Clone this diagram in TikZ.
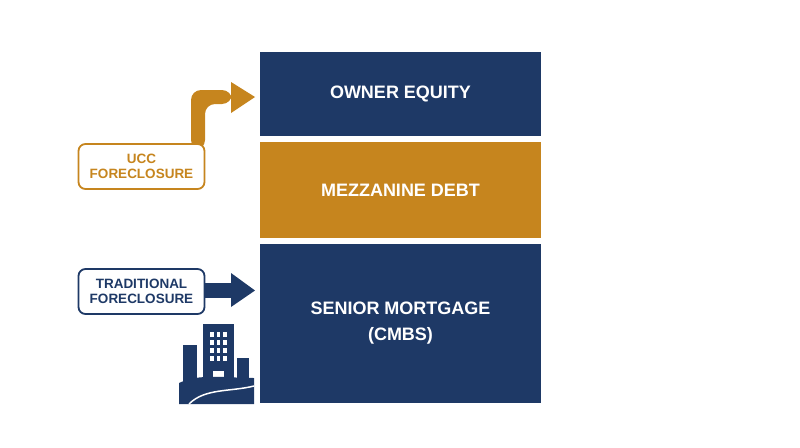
\documentclass[tikz,border=0pt]{standalone}
\usepackage{fontspec}
\setmainfont{Liberation Sans}
\definecolor{navy}{HTML}{1E3966}
\definecolor{gold}{HTML}{C6851E}
\begin{document}
\begin{tikzpicture}[x=1pt,y=-1pt,
  layer/.style={draw=none,minimum width=281pt,inner sep=0pt,text=white,font=\bfseries\fontsize{18}{22}\selectfont,align=center},
  tag/.style={draw=#1,line width=1.8pt,rounded corners=7pt,fill=white,text=#1,minimum width=126pt,minimum height=45pt,font=\bfseries\fontsize{13.5}{15.5}\selectfont,align=center,inner sep=0pt},
  win/.style={fill=white,draw=none}]
\useasboundingbox (0,0) rectangle (800,447);
\node[layer,fill=navy,minimum height=84pt] (eq) at (400.5,94) {OWNER EQUITY};
\node[layer,fill=gold,minimum height=96pt] (mz) at (400.5,190) {MEZZANINE DEBT};
\node[layer,fill=navy,minimum height=159pt] (sr) at (400.5,323.5) {SENIOR MORTGAGE\\[4pt](CMBS)};
% orange arrow
\coordinate (ua) at (198,145);
\fill[gold,rounded corners=10pt] (191,150) -- (191,90) -- (232,90) -- (232,104) -- (205,104) -- (205,150) -- cycle;
\fill[gold] (231,82) -- (255,97) -- (231,113) -- cycle;
\node[tag=gold] (ucc) at (141.5,166.5) {UCC\\FORECLOSURE};
% navy arrow
\fill[navy] (200,283) rectangle (233,298);
\fill[navy] (231,273) -- (255,290.5) -- (231,307) -- cycle;
\node[tag=navy] (tf) at (141.5,291.5) {TRADITIONAL\\FORECLOSURE};
% building
\fill[navy] (183,345) rectangle (197,390);
\fill[navy] (237,358) rectangle (249,390);
\fill[navy] (203,324) rectangle (234,390);
\foreach \i in {0,1,2} \foreach \j in {0,1,2,3}
  \fill[white] (210+\i*6.5,332+\j*8) rectangle ++(3.5,4.5);
\fill[white] (213,371) rectangle (224,390);
\fill[navy] (179,383) .. controls (200,373) and (225,378) .. (254,378) -- (254,404) -- (179,404) -- cycle;
\draw[white,line width=1.5pt] (189,404) .. controls (205,388) and (230,392) .. (254,386);
\end{tikzpicture}
\end{document}
